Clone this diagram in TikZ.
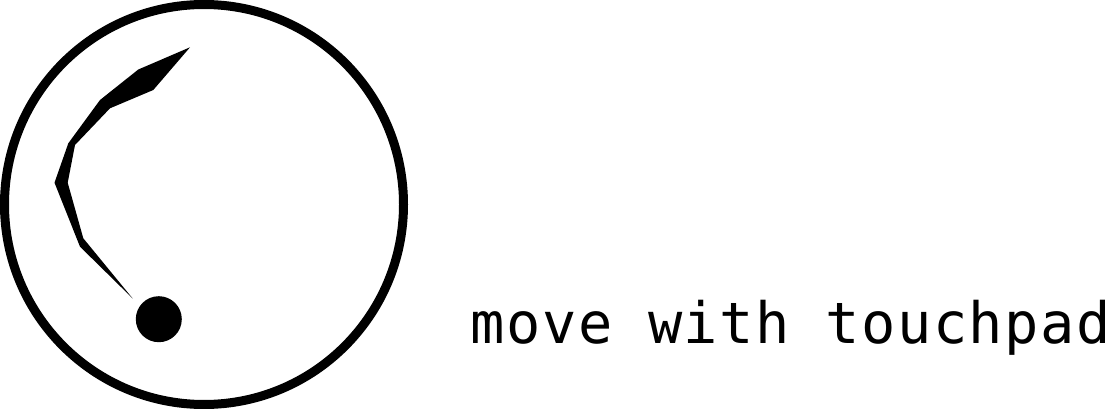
\documentclass[tikz,border=0pt]{standalone}
\usepackage{fontspec}
\newfontfamily\labelmono[LetterSpace=2.6]{DejaVu Sans Mono}
\begin{document}
\begin{tikzpicture}[x=1pt,y=-1pt,
  ring/.style={draw=black,line width=9pt},
  trail/.style={fill=black},
  knob/.style={fill=black},
  caption/.style={anchor=base west,inner sep=0pt,font=\labelmono\fontsize{57}{60}\selectfont}]
\useasboundingbox (0,0) rectangle (1109,409);
\draw[ring] (204,204.5) ellipse [x radius=199.5, y radius=200];
\fill[trail] (190,47.3) -- (138.3,69.5) -- (100,100) -- (68.3,143.3) -- (54.5,182.7)
  -- (80,246.7) -- (132.7,298.5) -- (83.3,238.3) -- (67.7,182.7) -- (75,145)
  -- (110,108.3) -- (153.3,90) -- cycle;
\fill[knob] (158.8,319.2) circle [radius=23];
\node[caption] (lbl) at (470.5,343) {move with touchpad};
\end{tikzpicture}
\end{document}
